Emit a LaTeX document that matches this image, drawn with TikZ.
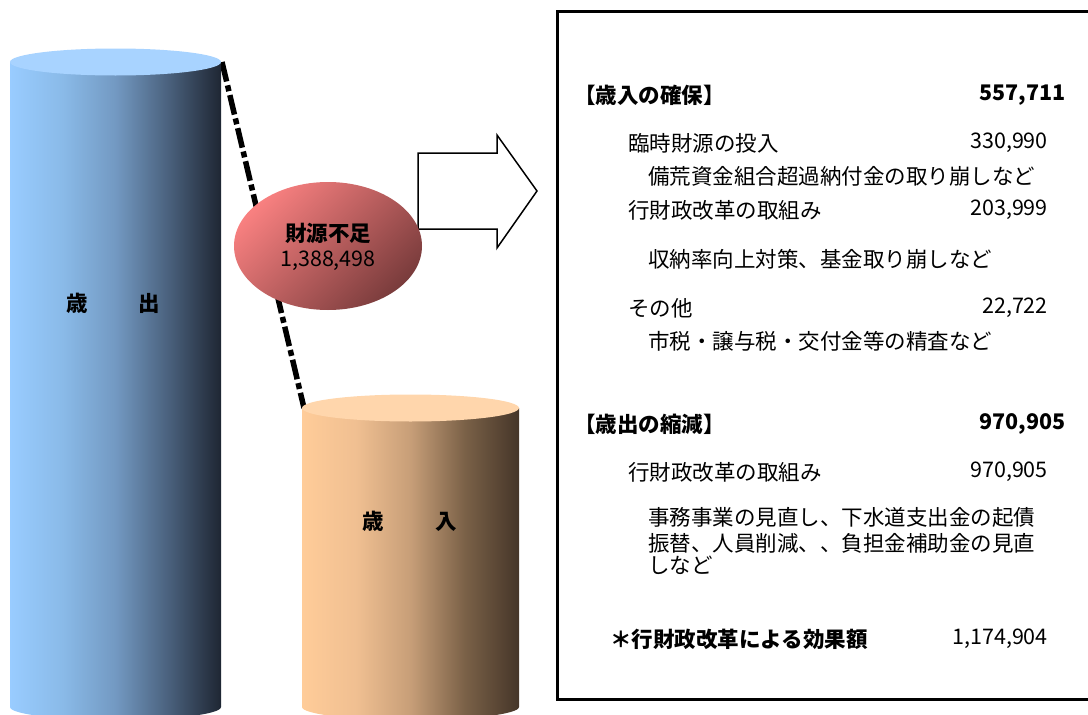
\documentclass[tikz,border=0pt]{standalone}
\usepackage{fontspec}
\setmainfont{Noto Sans CJK JP}
\usetikzlibrary{shapes.geometric}
\definecolor{bluetop}{RGB}{168,211,255}
\definecolor{orangetop}{RGB}{255,214,172}
\definecolor{ellL}{RGB}{248,128,128}
\definecolor{ellD}{RGB}{122,60,60}
\pgfdeclarehorizontalshading{bluecyl}{100bp}{rgb(0bp)=(0.6,0.8,1); rgb(25bp)=(0.6,0.8,1); rgb(37.5bp)=(0.54,0.73,0.91); rgb(50bp)=(0.45,0.6,0.76); rgb(62.5bp)=(0.29,0.38,0.49); rgb(75bp)=(0.12,0.15,0.2); rgb(100bp)=(0.12,0.15,0.2)}
\pgfdeclarehorizontalshading{orangecyl}{100bp}{rgb(0bp)=(1,0.8,0.6); rgb(25bp)=(1,0.8,0.6); rgb(37.5bp)=(0.94,0.75,0.57); rgb(50bp)=(0.78,0.62,0.47); rgb(62.5bp)=(0.48,0.38,0.28); rgb(75bp)=(0.27,0.21,0.16); rgb(100bp)=(0.27,0.21,0.16)}
\tikzset{
  jp/.style={font=\fontsize{21.5}{25}\selectfont, inner sep=0pt, text=black},
  jpb/.style={jp, font=\fontsize{21.5}{25}\selectfont\bfseries},
  dashline/.style={line width=5.5pt, dash pattern=on 20pt off 4pt on 6pt off 4pt},
}
\begin{document}
\begin{tikzpicture}[x=1pt,y=-1pt]
\useasboundingbox (0,0) rectangle (1088,715);
\clip (0,0) rectangle (1088,715);
% dashed link
\coordinate (c1r) at (222,62);
\coordinate (c2l) at (304,408);
\draw[dashline] (c1r) -- (c2l);
% left cylinder
\shade[shading=bluecyl] (10,62) -- (10,707) arc[start angle=180,end angle=360,x radius=105.5pt,y radius=13pt] -- (221,62) -- cycle;
\fill[bluetop] (115.5,62) ellipse[x radius=105.5pt,y radius=13.5pt];
\node[jpb] (lout) at (113.5,303) {歳\hspace{51pt}出};
% right cylinder
\shade[shading=orangecyl] (302,408) -- (302,707) arc[start angle=180,end angle=360,x radius=108.5pt,y radius=13pt] -- (519,408) -- cycle;
\fill[orangetop] (410.5,408) ellipse[x radius=108.5pt,y radius=13.5pt];
\node[jpb] (lin) at (409.5,521) {歳\hspace{51pt}入};
% block arrow
\draw[line width=1.5pt, fill=white, line join=miter] (418,153) -- (497,153) -- (497,135) -- (537,191) -- (497,248) -- (497,229) -- (418,229) -- cycle;
% ellipse
\node[ellipse, minimum width=188pt, minimum height=128pt, inner sep=0pt, top color=ellL, bottom color=ellD, shading angle=45] (gap) at (328,246) {};
\node[jpb] (gapt) at (328,233) {財源不足};
\node[jp] (gapn) at (328,261) {1,388,498};
% right box
\draw[line width=3pt] (557.5,11.5) rectangle (1100,699);
\node[jpb, anchor=west] (h1) at (574,95) {【歳入の確保】};
\node[jpb, anchor=east] (h1n) at (1066,95) {557,711};
\node[jp, anchor=west] (a1) at (628,143) {臨時財源の投入};
\node[jp, anchor=east] (a1n) at (1048,143) {330,990};
\node[jp, anchor=west] (a1d) at (648,176) {備荒資金組合超過納付金の取り崩しなど};
\node[jp, anchor=west] (a2) at (628,210) {行財政改革の取組み};
\node[jp, anchor=east] (a2n) at (1048,210) {203,999};
\node[jp, anchor=west] (a2d) at (648,259) {収納率向上対策、基金取り崩しなど};
\node[jp, anchor=west] (a3) at (628,308) {その他};
\node[jp, anchor=east] (a3n) at (1048,308) {22,722};
\node[jp, anchor=west] (a3d) at (648,341) {市税・譲与税・交付金等の精査など};
\node[jpb, anchor=west] (h2) at (574,424) {【歳出の縮減】};
\node[jpb, anchor=east] (h2n) at (1066,424) {970,905};
\node[jp, anchor=west] (b1) at (628,472) {行財政改革の取組み};
\node[jp, anchor=east] (b1n) at (1048,472) {970,905};
\node[jp, anchor=west] (b1d1) at (648,517) {事務事業の見直し、下水道支出金の起債};
\node[jp, anchor=west] (b1d2) at (648,543) {振替、人員削減、、負担金補助金の見直};
\node[jp, anchor=west] (b1d3) at (648,565) {しなど};
\node[jpb, anchor=west] (tot) at (610,639) {＊行財政改革による効果額};
\node[jp, anchor=east] (totn) at (1048,639) {1,174,904};
\end{tikzpicture}
\end{document}
